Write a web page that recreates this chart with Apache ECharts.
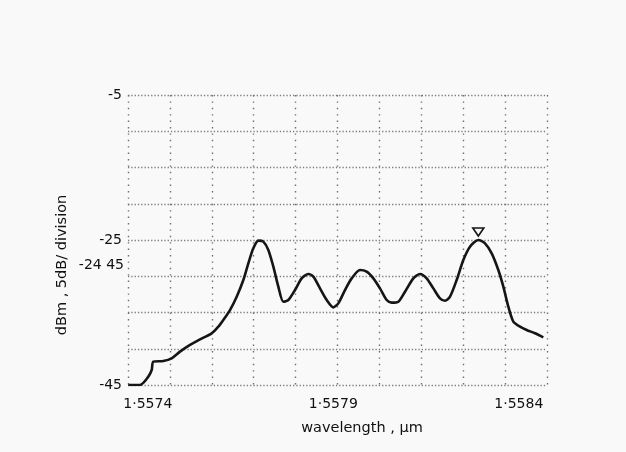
<!DOCTYPE html>
<html>
<head>
<meta charset="utf-8">
<script src="https://cdn.jsdelivr.net/npm/echarts@6/dist/echarts.min.js"></script>
<style>
html,body{margin:0;padding:0;background:#f9f9f9;}
#chart{width:626px;height:452px;}
</style>
</head>
<body>
<div id="chart"></div>
<script>
// wavelength (µm) and power (dBm)
const wavelengths = [1.5574008,1.5574286,1.5574485,1.5574565,1.5574605,1.5574843,1.5575042,1.5575241,1.557548,1.5575718,
  1.5575997,1.5576156,1.5576275,1.5576434,1.5576594,1.5576753,1.5576872,1.5576991,1.5577111,1.557723,
  1.5577349,1.5577469,1.5577588,1.5577707,1.5577827,1.5577986,1.5578145,1.5578304,1.5578423,1.5578582,
  1.5578742,1.5578901,1.557902,1.5579179,1.5579338,1.5579537,1.5579696,1.5579855,1.5580014,1.5580174,
  1.5580293,1.5580452,1.5580611,1.558081,1.5580969,1.5581128,1.5581287,1.5581446,1.5581566,1.5581685,
  1.5581844,1.5582003,1.5582162,1.5582361,1.558252,1.558268,1.5582838,1.5582958,1.5583077,1.5583196,
  1.5583356,1.5583515,1.5583714,1.5583912];
const power = [-45,-45,-43.85,-42.93,-41.78,-41.69,-41.32,-40.40,-39.48,-38.70,
  -37.87,-36.95,-36.03,-34.66,-32.82,-30.52,-28.22,-26.15,-25.09,-25.23,
  -26.38,-28.68,-31.44,-33.51,-33.28,-31.90,-30.29,-29.69,-30.06,-31.67,
  -33.28,-34.29,-33.74,-31.90,-30.29,-29.14,-29.37,-30.29,-31.67,-33.28,
  -33.64,-33.51,-32.13,-30.29,-29.69,-30.29,-31.67,-33.05,-33.37,-32.82,
  -30.52,-27.76,-25.92,-25.00,-25.46,-26.84,-29.14,-31.44,-34.20,-36.26,
  -36.95,-37.41,-37.87,-38.43];
const xTickLabels = [1.5574, 1.5579, 1.5584];
const yTickLabels = [-45, -25, -5];
const peakMarker = [1.5582361, -25.0];
const refLevelText = '-24 45';
const yTitle = 'dBm , 5dB/ division';
const xTitle = 'wavelength , µm';

const chart = echarts.init(document.getElementById('chart'), null, {renderer: 'canvas'});
const font = 'DejaVu Sans';
chart.setOption({
  backgroundColor: '#f9f9f9',
  animation: false,
  grid: {left: 128, right: 79, top: 95, bottom: 67},
  xAxis: [
    {
      type: 'value', min: 1.5574, max: 1.5584, interval: 0.0001,
      axisLine: {show: false}, axisTick: {show: false}, axisLabel: {show: false},
      splitLine: {show: true, lineStyle: {color: '#6f6f6f', width: 1.4, type: [1.4, 5]}}
    },
    {
      type: 'value', min: 1.5573466, max: 1.558476, position: 'bottom',
      axisLine: {show: false}, axisTick: {show: false}, splitLine: {show: false},
      axisLabel: {
        customValues: xTickLabels, margin: 12, fontFamily: font, fontSize: 14, color: '#111',
        formatter: v => v.toFixed(4).replace('.', '·')
      }
    }
  ],
  yAxis: {
    type: 'value', min: -45, max: -5, interval: 5,
    axisLine: {show: false}, axisTick: {show: false},
    axisLabel: {customValues: yTickLabels, margin: 6, fontFamily: font, fontSize: 14, color: '#111'},
    splitLine: {show: true, lineStyle: {color: '#7c7c7c', width: 1.3, type: [1.3, 2]}}
  },
  series: [{
    type: 'line', xAxisIndex: 0,
    data: wavelengths.map((w, i) => [w, power[i]]),
    showSymbol: false, smooth: 0.25,
    lineStyle: {color: '#151515', width: 2.6},
    markPoint: {
      data: [{coord: peakMarker}],
      symbol: 'path://M0,0 L10,0 L5,8 Z',
      symbolSize: [11, 8], symbolOffset: [0, -8],
      itemStyle: {color: 'rgba(0,0,0,0)', borderColor: '#151515', borderWidth: 1.6},
      label: {show: false}
    }
  }],
  graphic: [
    {type: 'text', x: 124, y: 265,
      style: {text: refLevelText, font: '14px "DejaVu Sans"', fill: '#111', textAlign: 'right', textVerticalAlign: 'middle'}},
    {type: 'text', x: 62, y: 265, rotation: Math.PI / 2,
      style: {text: yTitle, font: '14.5px "DejaVu Sans"', fill: '#111', textAlign: 'center', textVerticalAlign: 'middle'}},
    {type: 'text', x: 362, y: 428,
      style: {text: xTitle, font: '14.5px "DejaVu Sans"', fill: '#111', textAlign: 'center', textVerticalAlign: 'middle'}}
  ]
});
</script>
</body>
</html>
